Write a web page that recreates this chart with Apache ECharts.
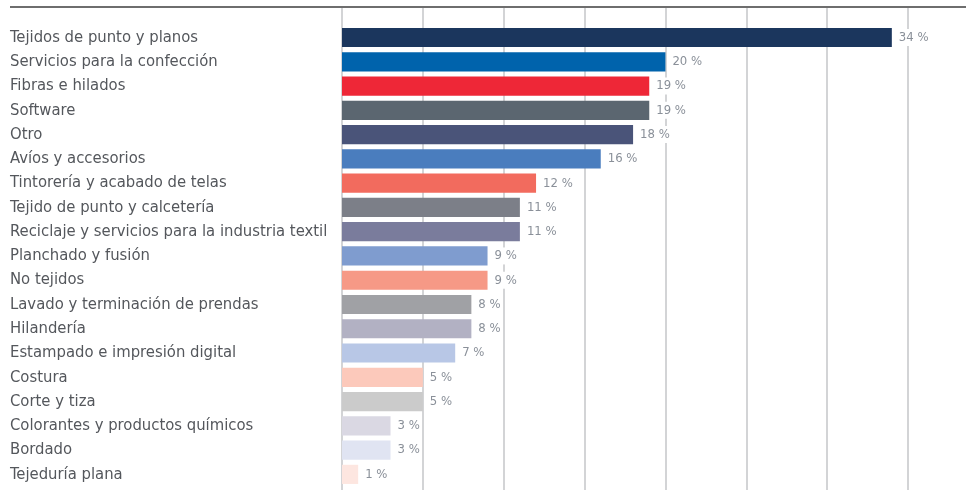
<!DOCTYPE html>
<html>
<head>
<meta charset="utf-8">
<script src="https://cdn.jsdelivr.net/npm/echarts@6/dist/echarts.min.js"></script>
<style>
  html, body { margin: 0; padding: 0; background: #ffffff; }
  #chart { width: 972px; height: 490px; }
</style>
</head>
<body>
<div id="chart"></div>
<script>
const categories = [
  "Tejidos de punto y planos",
  "Servicios para la confección",
  "Fibras e hilados",
  "Software",
  "Otro",
  "Avíos y accesorios",
  "Tintorería y acabado de telas",
  "Tejido de punto y calcetería",
  "Reciclaje y servicios para la industria textil",
  "Planchado y fusión",
  "No tejidos",
  "Lavado y terminación de prendas",
  "Hilandería",
  "Estampado e impresión digital",
  "Costura",
  "Corte y tiza",
  "Colorantes y productos químicos",
  "Bordado",
  "Tejeduría plana"
];
const values = [34, 20, 19, 19, 18, 16, 12, 11, 11, 9, 9, 8, 8, 7, 5, 5, 3, 3, 1];
const barColors = [
  "#1b365d", "#0063ac", "#ee2737", "#5b6670", "#4a5479", "#4a7dbe",
  "#f26b5e", "#7c7f88", "#7a7c9c", "#7f9ccf", "#f69986", "#a0a1a5",
  "#b2b1c3", "#b8c7e6", "#fcc9bb", "#cbcbcb", "#dad8e3", "#e0e4f2", "#fde6e0"
];
const axisMin = 0, axisMax = 35, axisStep = 5;

const chart = echarts.init(document.getElementById('chart'), null, { renderer: 'canvas' });
const fontFam = "'Liberation Sans Narrow', 'Arial Narrow', 'DejaVu Sans Condensed', sans-serif";

chart.setOption({
  animation: false,
  backgroundColor: '#ffffff',
  grid: [
    { left: 342, right: 64, top: 25.4, bottom: 3.5 },
    { left: 342, right: 64, top: 8, bottom: 0 }
  ],
  xAxis: [
    {
      gridIndex: 0, type: 'value', min: axisMin, max: axisMax, interval: axisStep,
      axisLine: { show: false }, axisTick: { show: false }, axisLabel: { show: false },
      splitLine: { show: false }
    },
    {
      gridIndex: 1, type: 'value', min: axisMin, max: axisMax, interval: axisStep,
      axisLine: { show: false }, axisTick: { show: false }, axisLabel: { show: false },
      splitLine: { show: true, lineStyle: { color: '#c4c6c8', width: 1.5 } }
    }
  ],
  yAxis: [
    {
      gridIndex: 0, type: 'category', data: categories, inverse: true,
      axisLine: { show: false }, axisTick: { show: false },
      axisLabel: {
        align: 'left', margin: 332, color: '#54575c', fontSize: 16.5,
        fontFamily: fontFam, padding: [5, 0, 0, 0]
      }
    },
    {
      gridIndex: 1, type: 'category', data: [''], show: false
    }
  ],
  graphic: [
    {
      type: 'line', z: 10,
      shape: { x1: 10, y1: 7, x2: 966, y2: 7 },
      style: { stroke: '#6e6e6e', lineWidth: 2 }
    }
  ],
  series: [
    {
      type: 'bar', xAxisIndex: 0, yAxisIndex: 0,
      data: values.map((v, i) => ({ value: v, itemStyle: { color: barColors[i] } })),
      barCategoryGap: '21%',
      z: 3,
      label: {
        show: true, position: 'right', distance: 5,
        formatter: p => p.value + ' %',
        color: '#8a9099', fontSize: 13, fontFamily: fontFam,
        backgroundColor: '#ffffff', padding: [3, 2, 1, 2]
      }
    }
  ]
});
</script>
</body>
</html>
